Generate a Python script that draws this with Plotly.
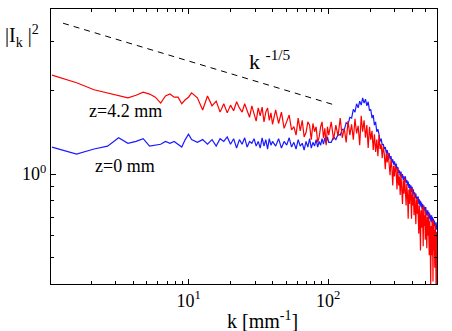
import numpy as np
import plotly.graph_objects as go

# wavenumber grid [mm^-1] (finer bins at low k, thinned out at high k)
k_a = 0.525 * np.arange(2, 21)
k_b = 11.55 + 1.05 * np.arange(28)
k_c = 42 + 2.1 * np.arange(29)
k_d = 105 + 4.2 * np.arange(119)

# |I_k|^2 for z = 4.2 mm (red)
red_a = [2.27, 2.13, 2.01, 1.96, 1.91, 1.88, 1.92, 1.97, 1.94, 1.89,
         1.80, 1.91, 1.94, 1.89, 1.89, 1.79, 1.85, 1.89, 1.96]
red_b = [1.88, 1.70, 1.91, 1.76, 1.83, 1.67, 1.79, 1.66, 1.77, 1.69,
         1.82, 1.73, 1.67, 1.79, 1.70, 1.60, 1.76, 1.64, 1.55, 1.73,
         1.62, 1.74, 1.54, 1.67, 1.73, 1.56, 1.66, 1.51]
red_c = [1.70, 1.52, 1.67, 1.46, 1.55, 1.63, 1.44, 1.48, 1.38, 1.59,
         1.43, 1.56, 1.36, 1.41, 1.54, 1.50, 1.33, 1.52, 1.42, 1.48,
         1.30, 1.36, 1.48, 1.54, 1.35, 1.46, 1.27, 1.48, 1.38]
red_d = [1.54, 1.33, 1.50, 1.37, 1.59, 1.35, 1.46, 1.30, 1.55, 1.38,
         1.51, 1.33, 1.58, 1.40, 1.49, 1.27, 1.62, 1.42, 1.56, 1.35,
         1.50, 1.24, 1.48, 1.33, 1.43, 1.22, 1.39, 1.20, 1.33, 1.16,
         1.38, 1.23, 1.28, 1.14, 1.26, 1.18, 1.04, 1.19, 1.10, 1.19,
         1.11, 0.99, 1.13, 1.06, 0.91, 1.07, 0.98, 1.07, 1.02, 0.88,
         1.05, 0.91, 0.98, 0.84, 1.00, 0.91, 0.78, 0.95, 0.85, 0.97,
         0.89, 0.77, 0.92, 0.84, 0.69, 0.88, 0.78, 0.89, 0.83, 0.69,
         0.89, 0.77, 0.83, 0.71, 0.85, 0.77, 0.66, 0.81, 0.72, 0.82,
         0.74, 0.61, 0.77, 0.69, 0.53, 0.74, 0.64, 0.76, 0.69, 0.55,
         0.77, 0.65, 0.71, 0.58, 0.74, 0.66, 0.54, 0.70, 0.60, 0.72,
         0.64, 0.51, 0.68, 0.60, 0.39, 0.65, 0.51, 0.68, 0.60, 0.41,
         0.68, 0.53, 0.63, 0.46, 0.66, 0.58, 0.38, 0.62, 0.37]

# |I_k|^2 for z = 0 mm (blue)
blue_a = [1.25, 1.18, 1.23, 1.26, 1.35, 1.29, 1.31, 1.34, 1.26, 1.27,
          1.28, 1.31, 1.29, 1.31, 1.28, 1.25, 1.33, 1.39, 1.33]
blue_b = [1.30, 1.33, 1.28, 1.33, 1.26, 1.34, 1.31, 1.36, 1.28, 1.34,
          1.24, 1.33, 1.28, 1.35, 1.25, 1.31, 1.29, 1.34, 1.26, 1.31,
          1.24, 1.35, 1.26, 1.33, 1.23, 1.34, 1.27, 1.31]
blue_c = [1.26, 1.34, 1.24, 1.31, 1.27, 1.35, 1.25, 1.30, 1.23, 1.33,
          1.26, 1.29, 1.22, 1.31, 1.25, 1.34, 1.24, 1.30, 1.26, 1.33,
          1.25, 1.31, 1.27, 1.34, 1.28, 1.35, 1.29, 1.36, 1.30]
blue_d = [1.30, 1.36, 1.33, 1.39, 1.38, 1.45, 1.44, 1.53, 1.51, 1.60,
          1.59, 1.71, 1.67, 1.79, 1.73, 1.83, 1.77, 1.88, 1.80, 1.86,
          1.76, 1.82, 1.69, 1.71, 1.59, 1.63, 1.50, 1.54, 1.42, 1.45,
          1.39, 1.31, 1.34, 1.27, 1.28, 1.23, 1.25, 1.19, 1.22, 1.16,
          1.19, 1.13, 1.16, 1.10, 1.13, 1.08, 1.11, 1.06, 1.09, 1.03,
          1.06, 1.01, 1.03, 0.98, 1.02, 0.97, 1.00, 0.95, 0.98, 0.94,
          0.98, 0.93, 0.95, 0.91, 0.94, 0.89, 0.92, 0.87, 0.91, 0.86,
          0.90, 0.85, 0.88, 0.83, 0.86, 0.82, 0.85, 0.81, 0.83, 0.79,
          0.83, 0.78, 0.81, 0.77, 0.80, 0.76, 0.79, 0.75, 0.78, 0.74,
          0.77, 0.74, 0.76, 0.72, 0.76, 0.71, 0.74, 0.71, 0.74, 0.70,
          0.73, 0.69, 0.72, 0.68, 0.71, 0.67, 0.71, 0.67, 0.70, 0.66,
          0.69, 0.65, 0.68, 0.65, 0.67, 0.63, 0.67, 0.63, 0.66]

# guide line k^-1/5 (end points)
guide_k = [1.26, 112]
guide_y = [3.49, 1.77]

x_ticks = [10, 100]
x_ticktext = ["10<sup>1</sup>", "10<sup>2</sup>"]
y_ticks = [1]
y_ticktext = ["10<sup>0</sup>"]

k = np.concatenate([k_a, k_b, k_c, k_d])
red = red_a + red_b + red_c + red_d
blue = blue_a + blue_b + blue_c + blue_d

FONT = "Liberation Serif"

fig = go.Figure()
fig.add_trace(go.Scatter(x=k, y=blue, mode="lines",
                         line=dict(color="#1a1aff", width=1.2)))
fig.add_trace(go.Scatter(x=k, y=red, mode="lines",
                         line=dict(color="#ff0000", width=1.2)))
fig.add_trace(go.Scatter(x=guide_k, y=guide_y, mode="lines",
                         line=dict(color="black", width=1, dash="6px,5px")))

axis_style = dict(type="log", showgrid=False, zeroline=False,
                  showline=True, linecolor="black", linewidth=1,
                  mirror="ticks", ticks="inside", ticklen=5,
                  tickcolor="black",
                  tickfont=dict(family=FONT, size=18, color="black"))

fig.update_xaxes(range=[0.014, 2.779], tickvals=x_ticks, ticktext=x_ticktext,
                 minor=dict(ticks="inside", ticklen=3, tickcolor="black",
                            tickvals=[2, 3, 4, 5, 6, 7, 8, 9,
                                      20, 30, 40, 50, 60, 70, 80, 90,
                                      200, 300, 400, 500]),
                 **axis_style)
fig.update_yaxes(range=[-0.396, 0.594], tickvals=y_ticks, ticktext=y_ticktext,
                 minor=dict(ticks="inside", ticklen=3, tickcolor="black",
                            tickvals=[0.5, 0.6, 0.7, 0.8, 0.9, 2, 3]),
                 **axis_style)

labels = [
    ("k [mm<sup>-1</sup>]", 0.547, -0.131, 20),
    ("|I<sub>k</sub> |<sup>2</sup>", -0.075, 0.90, 20),
    ("z=4.2 mm", 0.194, 0.629, 18),
    ("z=0 mm", 0.192, 0.429, 18),
    ("k <sup>-1/5</sup>", 0.567, 0.815, 22),
]
for text, x, y, size in labels:
    fig.add_annotation(text=text, x=x, y=y, xref="paper", yref="paper",
                       showarrow=False, xanchor="center", yanchor="middle",
                       font=dict(family=FONT, size=size, color="black"))

fig.update_layout(width=452, height=331, autosize=False,
                  margin=dict(l=51, r=15, t=9, b=47),
                  paper_bgcolor="white", plot_bgcolor="white",
                  showlegend=False)

# drop the browser's default 8px body margin so the figure fills the window
fig.write_html("out.html", config={"displayModeBar": False},
               post_script="document.body.style.margin='0';")
